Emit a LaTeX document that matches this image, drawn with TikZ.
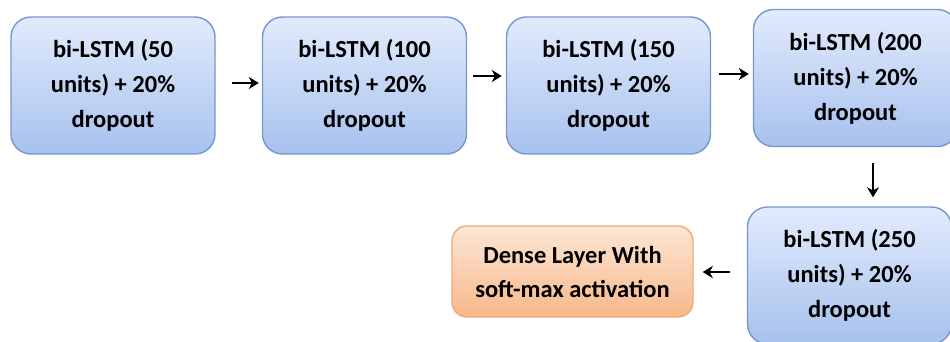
\documentclass[tikz,border=0pt]{standalone}
\usepackage{fontspec}
\setmainfont{Carlito}
\usetikzlibrary{arrows.meta}
\definecolor{bluetop}{HTML}{E2EBFC}
\definecolor{bluebot}{HTML}{A7C1EE}
\definecolor{blueedge}{HTML}{7597CF}
\definecolor{orantop}{HTML}{FDE6D5}
\definecolor{oranbot}{HTML}{F7B88A}
\definecolor{oranedge}{HTML}{EFAA78}
\tikzset{
  lstmbox/.style={rectangle, rounded corners=20pt, draw=blueedge, line width=1.4pt,
    top color=bluetop, bottom color=bluebot, align=center,
    font=\fontsize{24.5}{35}\selectfont\bfseries, inner sep=0pt,
    minimum width=204pt, minimum height=137pt},
  densebox/.style={rectangle, rounded corners=15pt, draw=oranedge, line width=1.4pt,
    top color=orantop, bottom color=oranbot, align=center,
    font=\fontsize{24.5}{34}\selectfont\bfseries, inner sep=0pt,
    minimum width=241pt, minimum height=91pt},
  flow/.style={line width=2.2pt, -{Stealth[length=10pt,width=12pt,inset=3pt]}}
}
\begin{document}
\begin{tikzpicture}[x=1pt,y=-1pt]
\useasboundingbox (0,0) rectangle (950,341);
\clip (0,0) rectangle (950,341);
\fill[white] (0,0) rectangle (950,341);

\node[lstmbox] (b1) at (113,85.5) {bi-LSTM (50\\units) + 20\%\\dropout};
\node[lstmbox] (b2) at (364.5,85.5) {bi-LSTM (100\\units) + 20\%\\dropout};
\node[lstmbox] (b3) at (608.5,85.5) {bi-LSTM (150\\units) + 20\%\\dropout};
\node[lstmbox] (b4) at (855.5,78) {bi-LSTM (200\\units) + 20\%\\dropout};
\node[lstmbox] (b5) at (849.5,275.5) {bi-LSTM (250\\units) + 20\%\\dropout};
\node[densebox] (d) at (572.5,271.5) {Dense Layer With\\soft-max activation};

% connectors between the layers
\draw[flow, shorten <=16pt, shorten >=3pt]
  ([yshift=2.5pt]b1.east) -- ([yshift=2.5pt]b1.east -| b2.west);
\draw[flow, shorten <=6pt, shorten >=4pt]
  ([yshift=9.5pt]b2.east) -- ([yshift=9.5pt]b2.east -| b3.west);
\draw[flow, shorten <=8pt, shorten >=4pt]
  ([yshift=11.5pt]b3.east) -- ([yshift=11.5pt]b3.east -| b4.west);
\draw[flow, shorten <=16pt, shorten >=9pt]
  ([xshift=17.5pt]b4.south) -- ([xshift=17.5pt]b4.south |- b5.north);
\draw[flow, shorten <=17pt, shorten >=9pt]
  ([yshift=3.5pt]b5.west) -- ([yshift=3.5pt]b5.west -| d.east);
\end{tikzpicture}
\end{document}
